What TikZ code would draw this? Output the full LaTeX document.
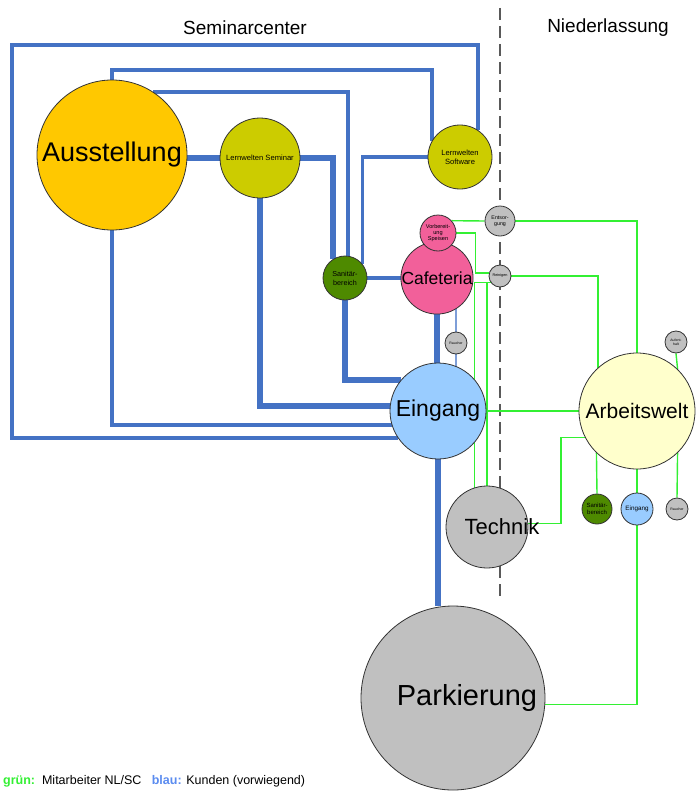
\documentclass[tikz,border=0pt]{standalone}
\usepackage{fontspec}
\setmainfont{Liberation Sans}
\pgfdeclarelayer{bottom}
\pgfdeclarelayer{lines}
\pgfsetlayers{bottom,lines,main}
\begin{document}
\begin{tikzpicture}[x=1pt,y=-1pt,
  circ/.style={circle,draw=black!80,line width=0.8pt,inner sep=0pt,align=center,text=black},
  bthick/.style={draw=bl,line width=5.8pt},
  bmed/.style={draw=bl,line width=4pt},
  bthin/.style={draw=bl,line width=3.2pt},
  bfine/.style={draw=bll,line width=1.6pt},
  grn/.style={draw=gr,line width=1.4pt},
  title/.style={font=\fontsize{19}{21}\selectfont}]
\definecolor{bl}{HTML}{4472C4}
\definecolor{bll}{HTML}{7E9ED8}
\definecolor{gr}{HTML}{33F033}
\definecolor{orng}{HTML}{FFC800}
\definecolor{olive}{HTML}{CCCC00}
\definecolor{dgreen}{HTML}{4E8A00}
\definecolor{pink}{HTML}{F2609A}
\definecolor{grey}{HTML}{C0C0C0}
\definecolor{lblue}{HTML}{99CCFF}
\definecolor{lyel}{HTML}{FFFFCC}
\definecolor{legblue}{HTML}{5B8CF0}
\useasboundingbox (0,0) rectangle (697,800);
\begin{pgfonlayer}{bottom}
\fill[white] (0,0) rectangle (697,800);
\end{pgfonlayer}

% titles
\node[title] (t1) at (245,28) {Seminarcenter};
\node[title] (t2) at (608,28) {Niederlassung};

% circles
\node[circ,fill=orng,minimum size=150pt,font=\fontsize{27}{30}\selectfont] (aus) at (112,155) {Ausstellung};
\node[circ,fill=olive,minimum size=80pt,font=\fontsize{7.6}{9}\selectfont] (lws) at (260,158) {Lernwelten Seminar};
\node[circ,fill=olive,minimum size=64pt,font=\fontsize{7.6}{9}\selectfont] (lwsw) at (460,157) {Lernwelten\\Software};
\node[circ,fill=dgreen,minimum size=44pt,font=\fontsize{7.2}{9}\selectfont] (san) at (345,278) {Sanitär-\\bereich};
\node[circ,fill=pink,minimum size=70pt,font=\fontsize{17.5}{20}\selectfont] (caf) at (437,278) {Cafeteria};
\node[circ,fill=pink,minimum size=36pt,font=\fontsize{5.6}{6.4}\selectfont] (vor) at (438,233) {Vorbereit-\\ung\\Speisen};
\node[circ,fill=grey,minimum size=30pt,font=\fontsize{5.3}{6.2}\selectfont] (ent) at (500,221) {Entsor-\\gung};
\node[circ,fill=grey,minimum size=22pt,font=\fontsize{3.8}{4.5}\selectfont] (rei) at (500,276) {Reinigen};
\node[circ,fill=grey,minimum size=22pt,font=\fontsize{3.5}{4.5}\selectfont] (rau1) at (456,343) {Raucher};
\node[circ,fill=lblue,minimum size=96pt,font=\fontsize{23}{26}\selectfont] (ein) at (438,411) {Eingang};
\node[circ,fill=lyel,minimum size=116pt,font=\fontsize{21}{24}\selectfont] (arb) at (637,411) {Arbeitswelt};
\node[circ,fill=grey,minimum size=22pt,font=\fontsize{3.5}{4.2}\selectfont] (auf) at (676,342) {Aufent-\\halt};
\node[circ,fill=grey,minimum size=82pt] (tech) at (487,527) {};
\node[inner sep=0pt,font=\fontsize{22}{25}\selectfont] (techt) at (502,527) {Technik};
\node[circ,fill=dgreen,minimum size=30pt,font=\fontsize{6}{7}\selectfont] (san2) at (597,509) {Sanitär-\\bereich};
\node[circ,fill=lblue,minimum size=32pt,font=\fontsize{6.3}{7}\selectfont] (ein2) at (637,509) {Eingang};
\node[circ,fill=grey,minimum size=22pt,font=\fontsize{3.5}{4.5}\selectfont] (rau2) at (677,509) {Raucher};
\node[circ,fill=grey,minimum size=184pt] (park) at (453,698) {};
\node[inner sep=0pt,font=\fontsize{29}{32}\selectfont] (parkt) at (467,698) {Parkierung};

\begin{pgfonlayer}{lines}
% dashed divider
\coordinate (dtop) at (500,8);
\coordinate (dbot) at (500,600);
\draw[black!65,line width=1.4pt,dash pattern=on 12pt off 6pt] (dtop) -- (dbot);

% blue connectors
\draw[bmed,line join=miter] (lwsw.56) |- (12,45) |- (ein.214);
\draw[bmed,line join=miter] (aus.north) -- (aus.north |- 0,70) -| (lwsw.150);
\draw[bmed,line join=miter] (aus.south) |- (ein.197);
\draw[bthick] (aus.east |- lws.west) -- (lws.west);
\draw[bthick,line join=miter] (lws.east) -| (san.123);
\draw[bmed,line join=miter] (aus.57) -| (san.82);
\draw[bthin,line join=miter] (lwsw.west) -| (san.39);
\draw[bthick,line width=6.5pt,line join=miter] (san.south) |- (ein.140);
\draw[bthick,line join=miter] (lws.south) |- (ein.174);
\draw[bmed] (san.east) -- (caf.west);
\draw[bthick] (caf.south) -- (caf.south |- ein.north);
\draw[bthick] (ein.south) -- (ein.south |- park.north);
\draw[bfine] (rau1.north |- caf.center) -- (rau1.north);
\draw[bfine] (rau1.south) -- (rau1.south |- ein.center);

% green connectors
\draw[grn] (vor.42) -- (ent.west);
\draw[grn] (ent.east) -| (arb.north);
\draw[grn] (vor.east) -- ++(19,0) |- (rei.165);
\draw[grn] (rei.east) -| (arb.132);
\draw[grn] (rei.215) -| (tech.108);
\draw[grn] (tech.north) -- (tech.north |- rei.215);
\draw[grn] (ein.east) -- (arb.west);
\draw[grn] (arb.207) -- ++(-24,0) |- (tech.5);
\draw[grn] (arb.226) -- (san2.north);
\draw[grn] (arb.south) -- (ein2.north);
\draw[grn] (arb.-46) -- (rau2.north);
\draw[grn] (auf.south) -- (arb.46);
\draw[grn] (ein2.south) |- (park.-4);
\end{pgfonlayer}

% legend
\node[anchor=base west,inner sep=0pt,font=\fontsize{12.5}{14}\selectfont] (leg) at (3,784)
  {\textcolor{gr}{\textbf{grün:}}\ \ Mitarbeiter NL/SC\ \ \ \textcolor{legblue}{\textbf{blau:}} Kunden (vorwiegend)};
\end{tikzpicture}
\end{document}
